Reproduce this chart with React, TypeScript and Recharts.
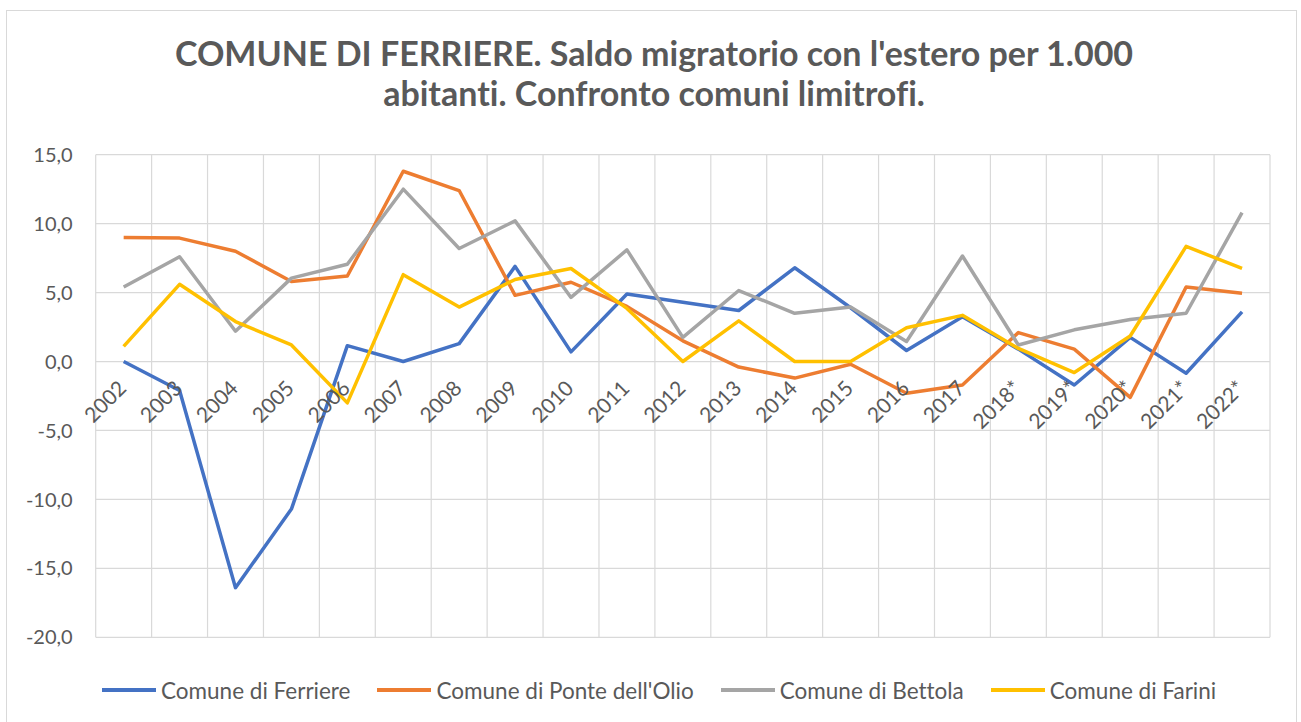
import React from 'react';
import { LineChart, Line, XAxis, YAxis, CartesianGrid } from 'recharts';

const categories = ['2002','2003','2004','2005','2006','2007','2008','2009','2010','2011','2012','2013','2014','2015','2016','2017','2018*','2019*','2020*','2021*','2022*'];
const ferriere = [0.0, -2.1, -16.4, -10.7, 1.15, 0.0, 1.3, 6.9, 0.7, 4.9, 4.3, 3.7, 6.8, 3.9, 0.8, 3.25, 0.9, -1.7, 1.75, -0.85, 3.6];
const ponteOlio = [9.0, 8.95, 8.0, 5.8, 6.2, 13.8, 12.4, 4.8, 5.75, 4.0, 1.5, -0.4, -1.2, -0.2, -2.3, -1.7, 2.1, 0.9, -2.6, 5.4, 4.95];
const bettola = [5.4, 7.6, 2.2, 6.05, 7.05, 12.5, 8.2, 10.2, 4.65, 8.1, 1.75, 5.15, 3.5, 3.95, 1.45, 7.65, 1.2, 2.3, 3.05, 3.5, 10.8];
const farini = [1.1, 5.6, 2.9, 1.2, -3.0, 6.3, 3.95, 5.95, 6.75, 3.85, 0.0, 2.95, 0.0, 0.0, 2.45, 3.35, 0.95, -0.8, 1.85, 8.35, 6.75];
const yTicks = [-20, -15, -10, -5, 0, 5, 10, 15];
const titleLines = ["COMUNE DI FERRIERE. Saldo migratorio con l'estero per 1.000", 'abitanti. Confronto comuni limitrofi.'];

const series = [
  { key: 'ferriere', name: 'Comune di Ferriere', values: ferriere, color: '#4472C4' },
  { key: 'ponte', name: "Comune di Ponte dell'Olio", values: ponteOlio, color: '#ED7D31' },
  { key: 'bettola', name: 'Comune di Bettola', values: bettola, color: '#A5A5A5' },
  { key: 'farini', name: 'Comune di Farini', values: farini, color: '#FFC000' },
];

const data = categories.map((c, i) => {
  const row: any = { cat: c };
  series.forEach((s) => { row[s.key] = s.values[i]; });
  return row;
});

const W = 1301;
const H = 722;
const PLOT_LEFT = 95.7;
const PLOT_RIGHT = 1270;
const PLOT_TOP = 154.7;
const PLOT_BOTTOM = 637.3;
const Y_MIN = -20;
const Y_MAX = 15;
const YAXIS_W = 80;
const XAXIS_H = 30;
const ZERO_Y = PLOT_TOP + ((PLOT_BOTTOM - PLOT_TOP) * Y_MAX) / (Y_MAX - Y_MIN);
const FONT = 'Lato, "Open Sans", sans-serif';
const TEXT = '#595959';
const GRID = '#D9D9D9';

const fmt = (v: number) => v.toFixed(1).replace('.', ',');

const XTick = (props: any) => {
  const { x, payload } = props;
  const ax = x + 4;
  const ay = ZERO_Y + 28;
  return (
    <text x={ax} y={ay} transform={`rotate(-45 ${ax} ${ay})`} textAnchor="end" fill={TEXT} fontSize={21} fontFamily={FONT}>
      {payload.value}
    </text>
  );
};

export default function App() {
  return (
    <div style={{ position: 'absolute', left: 0, top: 0, width: W, height: H, overflow: 'hidden', background: '#fff', fontFamily: FONT, fontVariantLigatures: 'none' }}>
      <div style={{ position: 'absolute', left: 6, top: 10, width: 1291, height: 760, border: `1px solid ${GRID}`, boxSizing: 'border-box' }} />
      <svg style={{ position: 'absolute', left: 0, top: 0 }} width={W} height={130}>
        {titleLines.map((t, i) => (
          <text key={i} x={654} y={66 + i * 40} textAnchor="middle" fill={TEXT} fontSize={34} fontWeight={700} fontFamily={FONT} style={{ fontVariantLigatures: 'none' }}>{t}</text>
        ))}
      </svg>
      <div style={{ position: 'absolute', left: 0, top: 0 }}>
        <LineChart
          width={W}
          height={H}
          data={data}
          margin={{ top: PLOT_TOP, right: W - PLOT_RIGHT, bottom: H - PLOT_BOTTOM - XAXIS_H, left: PLOT_LEFT - YAXIS_W }}
        >
          <CartesianGrid
            stroke={GRID}
            strokeWidth={1.2}
            verticalCoordinatesGenerator={({ offset }: any) =>
              Array.from({ length: categories.length + 1 }, (_, i) => offset.left + (i * offset.width) / categories.length)
            }
          />
          <XAxis dataKey="cat" scale="band" interval={0} axisLine={false} tickLine={false} height={XAXIS_H} tick={<XTick />} />
          <YAxis
            width={YAXIS_W}
            domain={[Y_MIN, Y_MAX]}
            ticks={yTicks}
            tickFormatter={fmt}
            axisLine={false}
            tickLine={false}
            tickMargin={17}
            tick={{ fill: TEXT, fontSize: 20, fontFamily: FONT }}
          />
          {series.map((s) => (
            <Line key={s.key} dataKey={s.key} name={s.name} type="linear" stroke={s.color} strokeWidth={3.5} dot={false} activeDot={false} isAnimationActive={false} strokeLinejoin="round" />
          ))}
        </LineChart>
      </div>
      <div style={{ position: 'absolute', left: 102, top: 675, height: 30, display: 'flex', alignItems: 'center', gap: 27 }}>
        {series.map((s) => (
          <div key={s.key} style={{ display: 'flex', alignItems: 'center' }}>
            <span style={{ display: 'inline-block', width: 54, height: 4, background: s.color, marginRight: 5 }} />
            <span style={{ color: TEXT, fontSize: 22.5, fontFamily: FONT, whiteSpace: 'nowrap' }}>{s.name}</span>
          </div>
        ))}
      </div>
    </div>
  );
}
